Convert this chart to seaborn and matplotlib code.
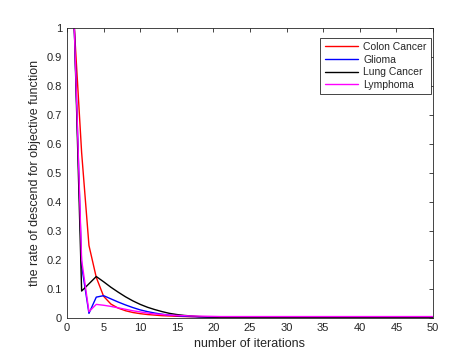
import numpy as np
import pandas as pd
import matplotlib
matplotlib.use("Agg")
import matplotlib.pyplot as plt
import seaborn as sns

iterations = list(range(1, 51))
colon = [1.0, 0.57, 0.25, 0.14, 0.075, 0.048, 0.034, 0.025, 0.019, 0.015,
         0.012, 0.010, 0.008, 0.007, 0.006, 0.005, 0.0045, 0.004, 0.0035, 0.003] + [0.003] * 30
glioma = [1.0, 0.18, 0.016, 0.072, 0.077, 0.066, 0.055, 0.045, 0.036, 0.028,
          0.022, 0.017, 0.013, 0.010, 0.008, 0.006, 0.005, 0.004, 0.0035, 0.003] + [0.0025] * 30
lung = [1.0, 0.093, 0.118, 0.143, 0.125, 0.106, 0.089, 0.073, 0.059, 0.047,
        0.037, 0.029, 0.022, 0.016, 0.012, 0.009, 0.007, 0.005, 0.004, 0.003] + [0.002] * 30
lymphoma = [1.0, 0.2, 0.022, 0.047, 0.044, 0.040, 0.035, 0.030, 0.025, 0.021,
            0.017, 0.014, 0.012, 0.010, 0.009, 0.008, 0.007, 0.0065, 0.006, 0.0055] + [0.005] * 30

names = ["Colon Cancer", "Glioma", "Lung Cancer", "Lymphoma"]
colors = ["#ff0000", "#0000ff", "#000000", "#ff00ff"]
series = [colon, glioma, lung, lymphoma]

df = pd.concat([pd.DataFrame({"iter": iterations, "val": s, "dataset": n})
                for n, s in zip(names, series)], ignore_index=True)

sns.set_style("white")
plt.rcParams["font.family"] = ["Liberation Sans", "DejaVu Sans"]

fig = plt.figure(figsize=(4.63, 3.58), dpi=100)
ax = fig.add_axes([0.1447, 0.1117, 0.7905, 0.8103])
sns.lineplot(data=df, x="iter", y="val", hue="dataset", palette=dict(zip(names, colors)),
             linewidth=1.0, ax=ax, legend=True)

ax.set_xlim(0, 50)
ax.set_ylim(0, 1)
ax.set_xticks(np.arange(0, 51, 5))
ax.set_yticks(np.round(np.arange(0, 1.01, 0.1), 1))
ax.set_yticklabels(["0"] + [f"{v:.1f}" for v in np.arange(0.1, 0.95, 0.1)] + ["1"])
ax.tick_params(direction="in", top=True, right=True, length=3, labelsize=8, colors="#262626",
               width=0.6)
for sp in ax.spines.values():
    sp.set_color("#262626")
    sp.set_linewidth(0.6)
ax.set_xlabel("number of iterations", fontsize=9, color="#262626")
ax.set_ylabel("the rate of descend for objective function", fontsize=9, color="#262626")
leg = ax.legend(loc="upper right", fontsize=7.5, frameon=True, fancybox=False,
                edgecolor="#262626", framealpha=1, handlelength=3.2, handletextpad=0.5,
                borderpad=0.4, labelspacing=0.25, borderaxespad=0,
                bbox_to_anchor=(0.9937, 0.9655))
leg.get_frame().set_linewidth(0.6)
fig.savefig("out.png", dpi=100)
